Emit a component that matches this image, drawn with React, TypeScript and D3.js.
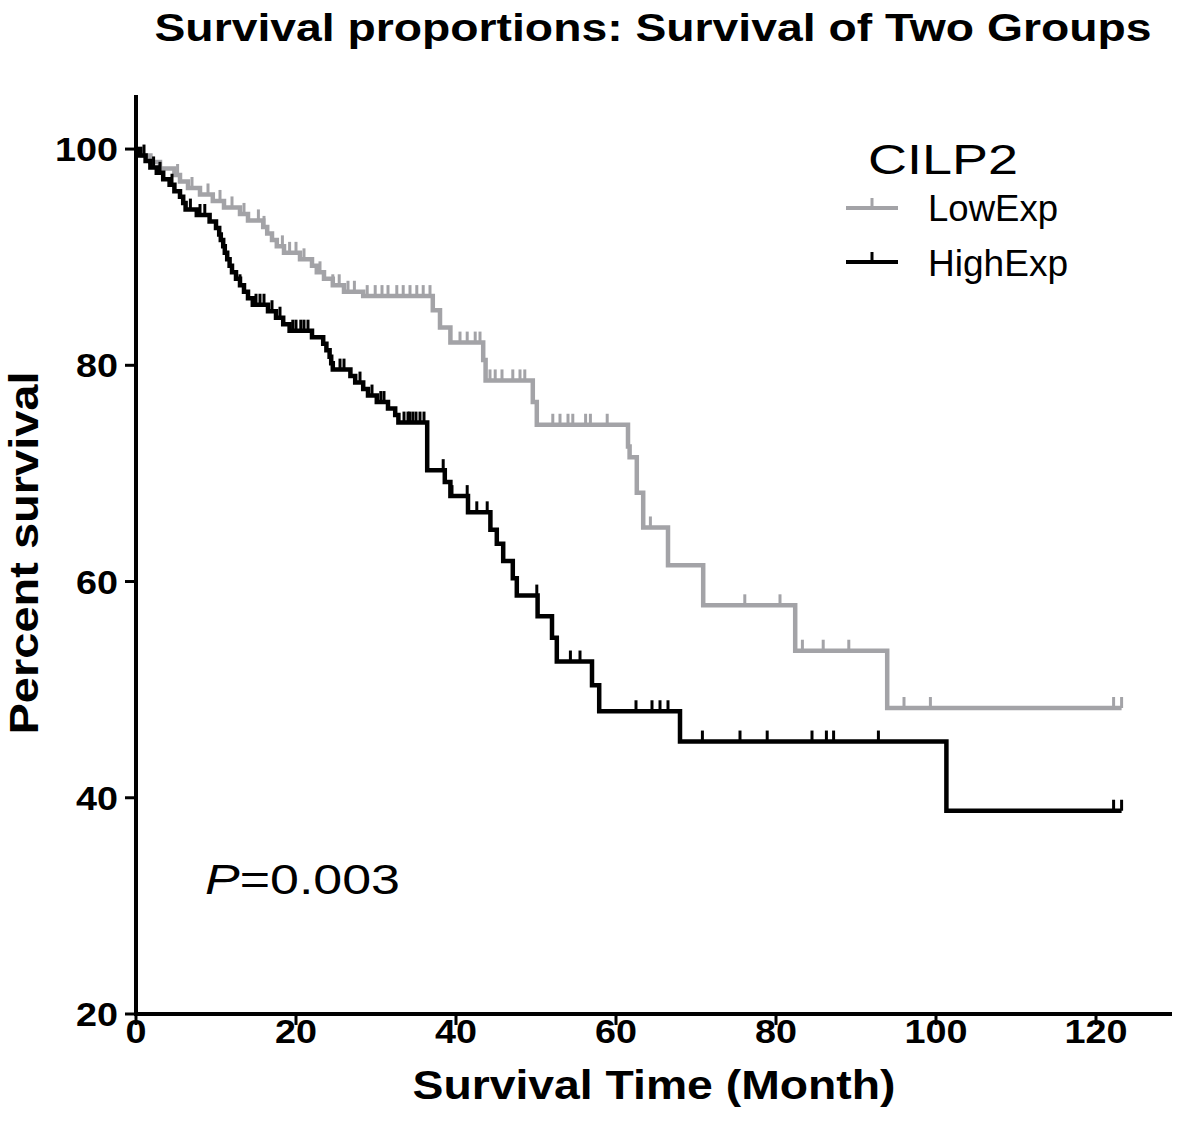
import * as d3 from "d3"

// step points: [month, percent survival] after each drop
const lowSteps: [number, number][] = [
  [0, 100], [0.8, 99.4], [1.8, 98.8], [3, 98.2], [4.8, 97.6], [5.5, 97.0], [6.5, 96.4],
  [8, 95.8], [9.6, 95.2], [11, 94.6], [13, 94.0], [14, 93.4], [15.9, 92.8], [16.4, 92.2],
  [17, 91.6], [17.6, 91.0], [18.5, 90.4], [20.5, 89.8], [22, 89.2], [22.6, 88.6], [23.5, 88.0],
  [24.6, 87.4], [26, 86.8], [28.4, 86.4], [37.1, 85.1], [38, 83.5], [39.3, 82.1], [43.4, 80.5],
  [43.7, 78.6], [49.6, 76.6], [50.1, 74.5], [61.5, 72.5], [61.7, 71.5], [62.6, 68.2],
  [63.4, 65.0], [66.5, 61.5], [70.9, 57.8], [82.4, 53.6], [93.9, 48.3], [123.2, 48.3],
]
const lowCensor = [
  5.2, 7, 9, 10.5, 12, 13.5, 15.3, 16, 18.3, 19.2, 20, 21, 23, 24.6, 25.4, 26.5, 27.3, 28.9, 29.9,
  30.75, 31.5, 32.6, 33.4, 34.25, 35.1, 35.9, 36.75, 40.5, 41.4, 42.4, 43, 44.25, 44.9, 45.75,
  47.1, 48, 48.6, 52.1, 53, 54, 54.6, 56.2, 56.8, 58.9, 64.3, 76.1, 80.5, 83.3, 85.9, 89.1, 96,
  99.3, 122.2, 123.2,
]

const highSteps: [number, number][] = [
  [0, 100], [0.5, 99.4], [1.2, 98.9], [1.8, 98.3], [2.6, 97.8], [3.4, 97.2], [4.2, 96.7],
  [4.8, 96.1], [5.5, 95.6], [5.9, 95.0], [6.2, 94.4], [7.6, 93.9], [9.2, 93.3], [10, 92.7],
  [10.4, 92.1], [10.6, 91.6], [10.9, 91.0], [11.1, 90.4], [11.4, 89.8], [11.7, 89.2], [12, 88.6],
  [12.5, 88.0], [13, 87.4], [13.5, 86.8], [14, 86.2], [14.6, 85.6], [16.5, 85.0], [17.5, 84.4],
  [18.4, 83.8], [19.2, 83.2], [22, 82.6], [23.4, 82.0], [23.8, 81.4], [24.2, 80.8], [24.4, 80.2],
  [24.6, 79.6], [26.8, 79.0], [27.4, 78.4], [28.4, 77.8], [29, 77.2], [30.1, 76.6], [31.5, 76.0],
  [32.4, 75.4], [32.8, 74.7], [36.4, 70.3], [38.6, 69.2], [39.3, 67.9], [41.5, 66.4], [44.3, 64.8],
  [45.1, 63.5], [45.9, 61.9], [47.1, 60.3], [47.6, 58.7], [50.2, 56.8], [52, 54.8], [52.6, 52.6],
  [57, 50.4], [57.9, 48.0], [68, 45.2], [101.3, 38.8], [123.2, 38.8],
]
const highCensor = [
  1, 2.2, 3, 4.5, 6.8, 8, 8.6, 13, 15, 15.5, 16, 17, 18, 19.6, 20, 20.6, 21, 21.5, 25.5, 26, 28,
  29.5, 30.6, 31, 33.5, 34, 34.2, 34.6, 35, 35.5, 36, 38.4, 39.5, 41.4, 42.6, 43.9, 50.1, 54.3,
  55.5, 62.5, 64.5, 65.5, 66.5, 70.8, 75.5, 78.9, 84.5, 86.3, 87.2, 92.8, 122.2, 123.2,
]

const xTicks = [0, 20, 40, 60, 80, 100, 120]
const yTicks = [20, 40, 60, 80, 100]

const GRAY = "#a3a3a7"
const FONT = "'Liberation Sans', Arial, sans-serif"

export default function App() {
  const W = 1181
  const H = 1141
  const x = d3.scaleLinear().domain([0, 129.5]).range([136, 1172])
  const y = d3.scaleLinear().domain([20, 105]).range([1014, 95])

  const line = d3
    .line<[number, number]>()
    .x((d) => x(d[0]))
    .y((d) => y(d[1]))
    .curve(d3.curveStepAfter)

  // survival level at time t for censor marks
  const levelAt = (steps: [number, number][], t: number) => {
    let v = steps[0][1]
    for (const s of steps) if (s[0] <= t) v = s[1]
    return v
  }

  const censorMarks = (steps: [number, number][], times: number[], color: string) =>
    times.map((t, i) => {
      const v = levelAt(steps, t)
      return (
        <line key={i} x1={x(t)} x2={x(t)} y1={y(v)} y2={y(v) - 11} stroke={color} strokeWidth={3} />
      )
    })

  const digitW = 21

  return (
    <svg width={W} height={H} style={{ position: "absolute", left: 0, top: 0, background: "#fff" }}>
      <rect width={W} height={H} fill="#fff" />
      <text
        x={653}
        y={41}
        textAnchor="middle"
        fontFamily={FONT}
        fontWeight="bold"
        fontSize={38}
        textLength={997}
        lengthAdjust="spacingAndGlyphs"
      >
        Survival proportions: Survival of Two Groups
      </text>

      {/* curves */}
      <path d={line(lowSteps) ?? ""} fill="none" stroke={GRAY} strokeWidth={4.5} />
      {censorMarks(lowSteps, lowCensor, GRAY)}
      <path d={line(highSteps) ?? ""} fill="none" stroke="#000" strokeWidth={4.5} />
      {censorMarks(highSteps, highCensor, "#000")}

      {/* axes */}
      <line x1={x(0)} x2={x(0)} y1={y(105)} y2={y(20) + 2} stroke="#000" strokeWidth={4} />
      <line x1={x(0) - 2} x2={x(129.5)} y1={y(20)} y2={y(20)} stroke="#000" strokeWidth={4} />
      {yTicks.map((t) => (
        <g key={t}>
          <line x1={x(0) - 11} x2={x(0)} y1={y(t)} y2={y(t)} stroke="#000" strokeWidth={3} />
          <text
            x={118}
            y={y(t) + 12}
            textAnchor="end"
            fontFamily={FONT}
            fontWeight="bold"
            fontSize={33}
            textLength={String(t).length * digitW}
            lengthAdjust="spacingAndGlyphs"
          >
            {t}
          </text>
        </g>
      ))}
      {xTicks.map((t) => (
        <g key={t}>
          <line x1={x(t)} x2={x(t)} y1={y(20)} y2={y(20) + 11} stroke="#000" strokeWidth={3} />
          <text
            x={x(t)}
            y={1043}
            textAnchor="middle"
            fontFamily={FONT}
            fontWeight="bold"
            fontSize={33}
            textLength={String(t).length * digitW}
            lengthAdjust="spacingAndGlyphs"
          >
            {t}
          </text>
        </g>
      ))}
      <text
        x={654}
        y={1099}
        textAnchor="middle"
        fontFamily={FONT}
        fontWeight="bold"
        fontSize={41}
        textLength={483}
        lengthAdjust="spacingAndGlyphs"
      >
        Survival Time (Month)
      </text>
      <text
        transform="translate(38,553) rotate(-90)"
        textAnchor="middle"
        fontFamily={FONT}
        fontWeight="bold"
        fontSize={41}
        textLength={363}
        lengthAdjust="spacingAndGlyphs"
      >
        Percent survival
      </text>

      {/* legend */}
      <text x={868} y={174} fontFamily={FONT} fontSize={42} textLength={150} lengthAdjust="spacingAndGlyphs">
        CILP2
      </text>
      <line x1={846} x2={898} y1={208} y2={208} stroke={GRAY} strokeWidth={4} />
      <line x1={872} x2={872} y1={208} y2={198} stroke={GRAY} strokeWidth={3} />
      <text x={928} y={221} fontFamily={FONT} fontSize={37} textLength={130} lengthAdjust="spacingAndGlyphs">
        LowExp
      </text>
      <line x1={846} x2={898} y1={262} y2={262} stroke="#000" strokeWidth={4} />
      <line x1={872} x2={872} y1={262} y2={252} stroke="#000" strokeWidth={3} />
      <text x={928} y={276} fontFamily={FONT} fontSize={37} textLength={140} lengthAdjust="spacingAndGlyphs">
        HighExp
      </text>

      <text x={205} y={894} fontFamily={FONT} fontSize={43} textLength={195} lengthAdjust="spacingAndGlyphs">
        <tspan fontStyle="italic">P</tspan>=0.003
      </text>
    </svg>
  )
}
